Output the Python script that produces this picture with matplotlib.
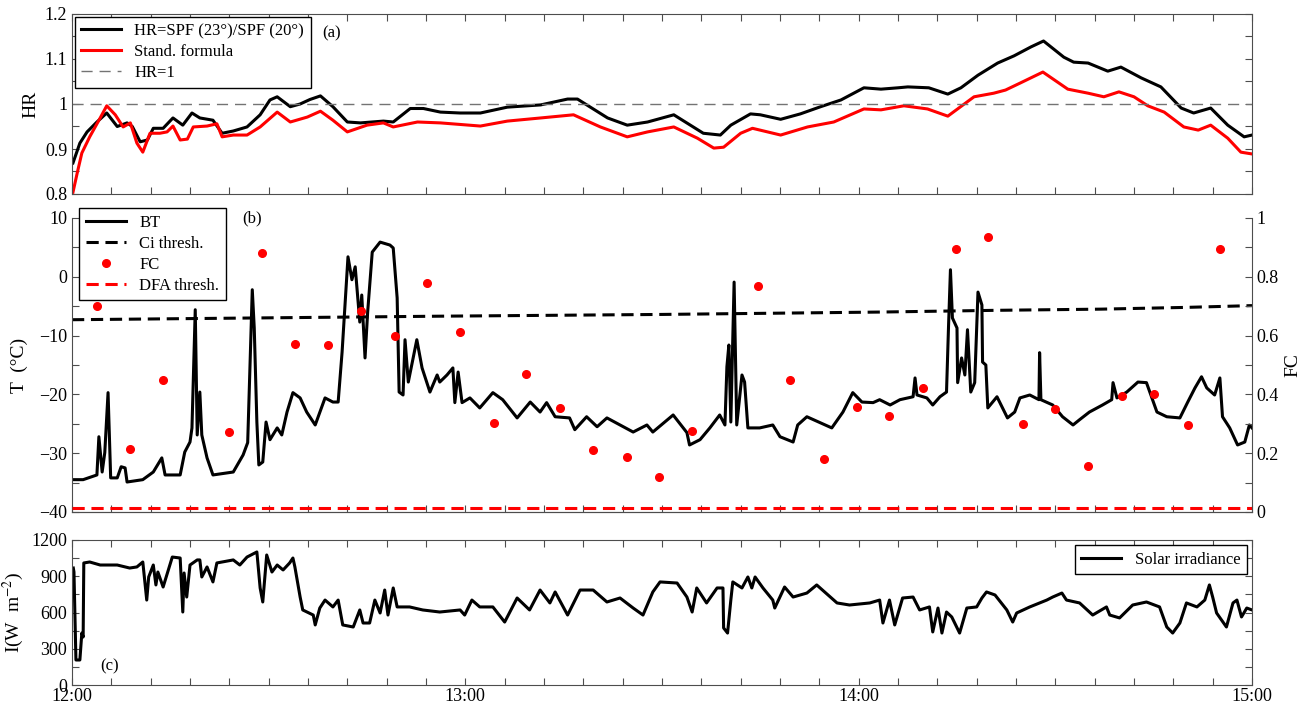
import numpy as np
import matplotlib.pyplot as plt
from matplotlib.ticker import MultipleLocator, FixedLocator, FuncFormatter

plt.rcParams['font.family'] = ['Liberation Serif', 'DejaVu Serif']
plt.rcParams['mathtext.fontset'] = 'stix'
plt.rcParams['font.size'] = 13

# time axis: minutes after 12:00

# (a) HR = SPF(23)/SPF(20)
hr_t = [0.15, 1.2, 2.3, 3.8, 5.3, 6.9, 8.4, 9.2, 10.4, 11.5, 12.4, 13.9, 15.4, 16.9,
        18.3, 19.5, 21.5, 22.9, 24.6, 26.7, 28.7, 30.2, 31.3, 33.3, 34.8, 36.3, 37.9,
        39.8, 42.0, 44.0, 47.5, 49.0, 51.6, 53.6, 56.2, 59.2, 62.3, 66.4, 71.5, 75.6,
        77.1, 81.7, 84.7, 87.8, 91.8, 96.3, 98.9, 100.5, 103.5, 105.0, 108.1, 111.1,
        114.2, 117.3, 120.8, 123.4, 126.0, 127.5, 130.7, 133.6, 135.6, 138.2, 141.2,
        143.7, 146.3, 148.2, 151.3, 152.8, 155.0, 158.0, 160.0, 163.1, 166.1, 169.2,
        171.1, 173.7, 176.3, 178.8, 180.0]
hr = [0.869, 0.913, 0.938, 0.96, 0.98, 0.95, 0.958, 0.95, 0.916, 0.92, 0.946, 0.946,
      0.969, 0.953, 0.98, 0.969, 0.964, 0.935, 0.94, 0.949, 0.976, 1.009, 1.016, 0.994,
      1.0, 1.01, 1.018, 0.994, 0.96, 0.958, 0.962, 0.96, 0.99, 0.99, 0.982, 0.98, 0.98,
      0.993, 0.998, 1.011, 1.011, 0.969, 0.953, 0.96, 0.976, 0.935, 0.931, 0.953, 0.978,
      0.976, 0.966, 0.978, 0.994, 1.009, 1.036, 1.033, 1.036, 1.038, 1.036, 1.022, 1.036,
      1.064, 1.091, 1.107, 1.127, 1.14, 1.104, 1.093, 1.091, 1.073, 1.082, 1.058, 1.038,
      0.991, 0.98, 0.991, 0.953, 0.927, 0.931]

std_t = [0.15, 0.8, 1.5, 2.7, 4.3, 5.3, 6.6, 7.8, 8.9, 9.9, 10.8, 11.9, 13.4, 14.5,
         15.4, 16.5, 17.6, 18.5, 20.6, 22.1, 22.9, 24.6, 26.7, 28.7, 31.3, 33.3, 35.9,
         37.9, 39.8, 42.0, 45.0, 47.5, 49.0, 52.7, 56.2, 62.3, 66.4, 71.5, 76.5, 80.6,
         84.7, 87.8, 91.8, 95.4, 97.9, 99.4, 102.0, 103.8, 108.1, 112.2, 116.2, 120.8,
         123.4, 126.9, 130.5, 133.6, 137.6, 140.6, 142.4, 144.7, 148.1, 151.9, 155.0,
         157.4, 159.7, 162.0, 164.1, 166.6, 169.6, 171.8, 173.7, 176.3, 178.3, 180.0]
std_hr = [0.804, 0.847, 0.891, 0.927, 0.969, 0.996, 0.976, 0.949, 0.958, 0.913, 0.893,
          0.935, 0.935, 0.938, 0.951, 0.92, 0.922, 0.949, 0.951, 0.956, 0.927, 0.931,
          0.931, 0.949, 0.982, 0.96, 0.971, 0.984, 0.964, 0.938, 0.953, 0.958, 0.949,
          0.96, 0.958, 0.951, 0.962, 0.969, 0.976, 0.949, 0.927, 0.938, 0.949, 0.924,
          0.902, 0.904, 0.935, 0.946, 0.931, 0.949, 0.96, 0.989, 0.987, 0.996, 0.989,
          0.973, 1.016, 1.024, 1.031, 1.047, 1.071, 1.033, 1.024, 1.016, 1.027, 1.016,
          0.996, 0.982, 0.949, 0.942, 0.953, 0.924, 0.893, 0.889]

# (b) brightness temperature
bt_t = [0.2, 1.7, 3.8, 4.1, 4.6, 5.0, 5.5, 5.9, 6.9, 7.5, 8.1, 8.4, 10.8, 12.4, 13.7,
        14.2, 16.5, 17.2, 18.0, 18.3, 18.8, 19.1, 19.5, 19.8, 20.6, 21.5, 24.6, 26.1,
        26.8, 27.5, 27.8, 28.2, 28.5, 29.1, 29.6, 30.2, 31.3, 32.0, 32.8, 33.7, 34.8,
        35.8, 37.1, 38.6, 39.8, 40.6, 41.2, 42.1, 42.7, 43.2, 43.9, 44.2, 44.7, 45.1,
        45.8, 47.0, 48.5, 49.0, 49.6, 49.9, 50.5, 50.8, 51.3, 52.6, 53.4, 54.6, 55.7,
        56.1, 57.2, 58.1, 58.4, 58.9, 59.5, 60.7, 62.2, 64.2, 65.7, 67.9, 69.9, 71.4,
        72.4, 73.7, 75.9, 76.7, 78.5, 80.1, 81.6, 83.6, 85.6, 87.7, 88.6, 91.7, 93.8,
        94.2, 95.8, 97.3, 98.8, 99.6, 99.9, 100.2, 100.5, 101.0, 101.4, 102.2, 102.6,
        103.1, 104.9, 106.9, 108.0, 110.0, 110.7, 112.1, 114.1, 115.9, 117.6, 119.1,
        120.5, 122.2, 123.2, 124.8, 126.3, 128.3, 128.6, 128.9, 130.4, 131.3, 132.4,
        133.4, 133.7, 134.0, 134.3, 135.0, 135.1, 135.7, 136.2, 136.6, 137.1, 137.7,
        138.2, 138.8, 138.9, 139.4, 139.7, 141.1, 142.7, 143.8, 144.6, 146.1, 147.5,
        147.6, 147.8, 149.6, 151.1, 152.7, 153.7, 155.2, 157.2, 158.6, 158.8, 159.4,
        160.9, 162.6, 163.9, 165.5, 167.0, 169.0, 170.2, 171.3, 172.3, 173.1, 174.3,
        175.1, 175.5, 176.6, 177.8, 178.9, 179.6, 180.0]
bt = [-34.5, -34.5, -33.7, -27.2, -33.2, -29.9, -19.7, -34.2, -34.2, -32.3, -32.5,
      -34.9, -34.5, -33.2, -30.8, -33.7, -33.7, -29.8, -28.1, -25.7, -5.6, -26.9,
      -19.6, -26.9, -30.8, -33.7, -33.2, -30.3, -28.2, -2.2, -8.7, -24.7, -32.0,
      -31.5, -24.7, -27.7, -25.7, -26.9, -23.0, -19.7, -20.6, -23.0, -25.2, -20.6,
      -21.3, -21.3, -12.8, 3.4, -0.5, 1.7, -7.7, -3.1, -13.8, -6.0, 4.2, 5.9, 5.4,
      4.9, -3.6, -19.6, -20.1, -10.7, -17.9, -10.7, -15.5, -19.6, -16.7, -17.9,
      -16.7, -15.5, -21.4, -16.2, -21.4, -20.6, -22.3, -19.7, -20.9, -24.0, -21.3,
      -23.0, -21.4, -23.8, -24.0, -26.0, -23.8, -25.5, -24.0, -25.2, -26.4, -25.2,
      -26.4, -23.5, -26.5, -28.6, -27.7, -25.7, -23.5, -25.2, -15.3, -11.6, -24.7,
      -0.9, -25.2, -16.7, -17.9, -25.7, -25.7, -25.2, -27.2, -28.1, -25.2, -23.8,
      -24.8, -25.7, -23.0, -19.7, -21.3, -21.4, -20.9, -21.8, -20.9, -20.4, -17.2,
      -20.1, -20.6, -21.8, -20.4, -19.6, -8.7, 1.2, -7.0, -8.7, -18.0, -13.8, -16.7,
      -9.0, -19.6, -18.0, -2.6, -4.8, -14.5, -15.0, -22.3, -20.4, -24.0, -23.0, -20.6,
      -20.1, -20.9, -12.9, -20.9, -21.8, -23.8, -25.2, -24.3, -23.0, -21.8, -20.9,
      -18.0, -20.6, -19.6, -17.9, -18.0, -23.0, -23.8, -24.0, -21.3, -18.9, -17.0,
      -18.9, -20.1, -17.2, -23.8, -25.7, -28.6, -28.1, -25.2, -25.7]

ci_t = [0, 28, 56, 90, 123, 141, 157, 170, 180]
ci_thresh = [-7.3, -7.0, -6.7, -6.4, -6.0, -5.7, -5.5, -5.2, -4.9]

fc_t = [3.8, 8.9, 13.9, 24.0, 29.0, 34.0, 39.1, 44.1, 49.2, 54.2, 59.2, 64.3, 69.3,
        74.5, 79.5, 84.6, 89.5, 94.5, 104.6, 109.6, 114.7, 119.7, 124.7, 129.8, 134.8,
        139.8, 145.0, 149.9, 155.0, 160.2, 165.0, 170.2, 175.1]
fc = [0.70, 0.214, 0.449, 0.272, 0.881, 0.571, 0.568, 0.684, 0.599, 0.779, 0.612,
      0.303, 0.469, 0.354, 0.211, 0.187, 0.119, 0.275, 0.769, 0.449, 0.18, 0.357,
      0.327, 0.422, 0.895, 0.935, 0.299, 0.35, 0.156, 0.395, 0.401, 0.296, 0.895]
dfa_thresh = 0.012

# (c) solar irradiance
irr_t = [0.2, 0.3, 0.6, 1.2, 1.5, 1.7, 1.8, 2.7, 4.3, 6.9, 8.8, 9.9, 10.8, 11.4, 11.7,
         12.4, 12.8, 13.1, 13.9, 14.6, 15.3, 16.5, 16.9, 17.1, 17.5, 18.0, 19.1, 19.5,
         19.8, 20.6, 21.5, 22.1, 24.6, 25.6, 26.7, 28.2, 28.7, 29.1, 29.7, 30.5, 31.3,
         32.2, 33.2, 33.7, 34.0, 34.8, 35.2, 36.8, 37.1, 37.8, 38.6, 39.8, 40.6, 41.3,
         42.9, 43.9, 44.4, 45.4, 46.2, 47.0, 47.7, 48.2, 49.0, 49.6, 51.5, 53.5, 56.1,
         59.2, 59.9, 61.0, 62.2, 64.2, 66.0, 67.9, 69.8, 71.4, 72.9, 73.7, 75.6, 77.5,
         79.5, 81.6, 83.6, 85.6, 87.1, 88.6, 89.7, 92.3, 93.8, 94.6, 95.3, 96.8, 98.4,
         99.3, 99.4, 100.0, 100.5, 100.8, 102.2, 103.1, 103.7, 104.2, 105.4, 106.9,
         107.2, 108.7, 110.0, 112.1, 113.6, 116.7, 118.6, 121.7, 123.2, 123.7, 124.7,
         125.5, 126.7, 128.3, 129.3, 130.8, 131.3, 132.1, 132.7, 133.4, 134.2, 135.4,
         136.5, 138.0, 138.8, 139.5, 140.8, 142.6, 143.5, 144.1, 146.1, 148.7, 149.6,
         151.0, 151.7, 153.7, 155.7, 157.8, 158.3, 159.8, 161.8, 163.9, 165.9, 167.0,
         167.9, 169.0, 170.0, 171.6, 172.8, 173.5, 174.0, 174.6, 176.1, 177.1, 177.7,
         178.4, 179.2, 180.0]
irr = [968, 935, 207, 207, 430, 397, 1010, 1018, 993, 993, 968, 977, 1018, 703, 894,
       993, 828, 935, 811, 935, 1059, 1051, 604, 927, 728, 993, 1035, 1035, 894, 977,
       853, 1010, 1035, 993, 1059, 1101, 803, 687, 1076, 935, 993, 952, 1010, 1051,
       977, 728, 621, 579, 497, 637, 703, 646, 703, 497, 480, 621, 513, 513, 703, 596,
       786, 579, 803, 646, 646, 621, 604, 621, 579, 703, 646, 646, 521, 720, 621, 786,
       679, 770, 579, 786, 786, 687, 720, 637, 579, 770, 853, 844, 728, 604, 803, 679,
       803, 803, 472, 430, 703, 853, 803, 894, 803, 894, 803, 703, 637, 811, 728, 761,
       828, 679, 662, 679, 703, 513, 703, 497, 720, 728, 621, 646, 439, 637, 430, 604,
       563, 430, 637, 646, 720, 770, 745, 621, 521, 596, 646, 703, 728, 761, 703, 679,
       579, 646, 579, 555, 662, 687, 646, 480, 430, 513, 679, 646, 703, 828, 728, 596,
       480, 679, 703, 563, 637, 621]


def hhmm(m, pos):
    m = int(round(m))
    return f"{12 + m // 60}:{m % 60:02d}"


def style_x(ax, labels):
    ax.set_xlim(0, 180)
    ax.xaxis.set_major_locator(FixedLocator([0, 60, 120, 180]))
    ax.xaxis.set_minor_locator(MultipleLocator(6))
    if labels:
        ax.xaxis.set_major_formatter(FuncFormatter(hhmm))
    else:
        ax.set_xticklabels([])


spine_c = '0.3'
leg_kw = dict(fancybox=False, edgecolor='black', framealpha=1, labelspacing=0.3,
              handlelength=2.4, fontsize=12)

fig = plt.figure(figsize=(13.08, 7.07), dpi=100)
L, W = 72 / 1308, 1180 / 1308
ax1 = fig.add_axes([L, 1 - 194 / 707, W, 180 / 707])
ax2 = fig.add_axes([L, 1 - 512 / 707, W, 294 / 707])
ax3 = fig.add_axes([L, 1 - 685 / 707, W, 145 / 707])

# panel (a)
ax1.plot(hr_t, hr, color='black', lw=2.2, label='HR=SPF (23°)/SPF (20°)')
ax1.plot(std_t, std_hr, color='red', lw=2.2, label='Stand. formula')
ax1.axhline(1, color='0.45', lw=1, dashes=(8, 5), label='HR=1')
ax1.set_ylim(0.8, 1.2)
ax1.yaxis.set_major_locator(MultipleLocator(0.1))
ax1.yaxis.set_minor_locator(MultipleLocator(0.05))
ax1.yaxis.set_major_formatter(FuncFormatter(lambda v, p: f"{v:g}"))
ax1.set_ylabel('HR', fontsize=14, labelpad=4)
style_x(ax1, False)
ax1.legend(loc='upper left', borderaxespad=0.15, **leg_kw)
ax1.text(0.212, 0.89, '(a)', transform=ax1.transAxes, va='center', fontsize=12)

# panel (b)
ax2.plot(bt_t, bt, color='black', lw=2.2, label='BT')
ax2.plot(ci_t, ci_thresh, color='black', lw=2.2, dashes=(4, 2.2), label='Ci thresh.')
ax2.set_ylim(-40, 10)
ax2.yaxis.set_major_locator(MultipleLocator(10))
ax2.yaxis.set_minor_locator(MultipleLocator(5))
ax2.set_ylabel('T  (°C)', fontsize=14, labelpad=8)
style_x(ax2, False)
ax2.spines['top'].set_visible(False)
ax2.spines['right'].set_visible(False)

ax2r = ax2.twinx()
ax2r.plot(fc_t, fc, 'o', color='red', ms=5.5, label='FC')
ax2r.axhline(dfa_thresh, color='red', lw=2.2, dashes=(4, 2.2), label='DFA thresh.')
ax2r.set_ylim(0, 1)
ax2r.yaxis.set_major_locator(MultipleLocator(0.2))
ax2r.yaxis.set_minor_locator(MultipleLocator(0.1))
ax2r.yaxis.set_major_formatter(FuncFormatter(lambda v, p: f"{v:g}"))
ax2r.set_ylabel('FC', fontsize=14, labelpad=4)
ax2r.spines['top'].set_visible(False)
ax2r.spines['left'].set_visible(False)

h1, l1 = ax2.get_legend_handles_labels()
h2, l2 = ax2r.get_legend_handles_labels()
ax2r.legend(h1 + h2, l1 + l2, loc='upper left', bbox_to_anchor=(0.006, 1.034),
            borderaxespad=0, **leg_kw)
ax2r.text(0.144, 1.0, '(b)', transform=ax2.transAxes, va='center', fontsize=12)

# panel (c)
ax3.plot(irr_t, irr, color='black', lw=2.2, label='Solar irradiance')
ax3.set_ylim(0, 1200)
ax3.yaxis.set_major_locator(MultipleLocator(300))
ax3.yaxis.set_minor_locator(MultipleLocator(150))
ax3.set_ylabel('I(W  m$^{-2}$)', fontsize=14, labelpad=4)
style_x(ax3, True)
ax3.legend(loc='upper right', borderaxespad=0.3, **leg_kw)
ax3.text(0.024, 0.13, '(c)', transform=ax3.transAxes, va='center', fontsize=12)

for ax in (ax1, ax2, ax2r, ax3):
    for s in ax.spines.values():
        s.set_color(spine_c)
    ax.tick_params(which='both', direction='in', length=5, width=0.8,
                   color=spine_c, labelsize=13)
for ax in (ax1, ax3):
    ax.tick_params(which='both', top=True, right=True)
ax2.tick_params(which='both', top=False, right=False)
ax2r.tick_params(which='both', top=False, left=False)
ax3.tick_params(axis='x', pad=2.5)

fig.savefig('out.png', dpi=100)
